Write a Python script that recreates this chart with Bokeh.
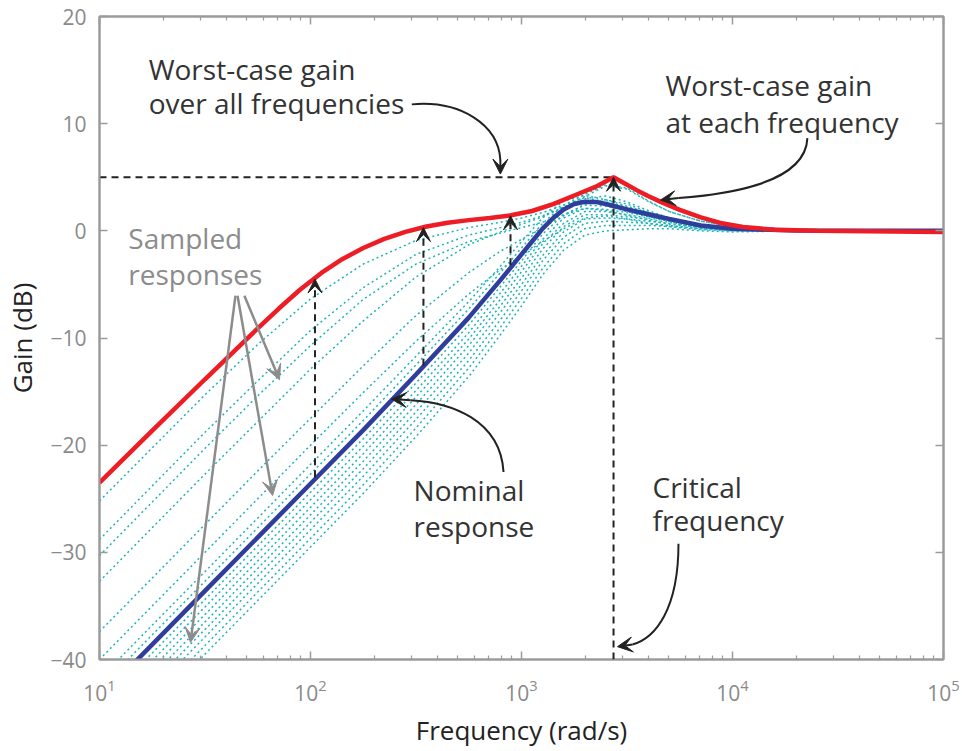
from bokeh.plotting import figure
from bokeh.models import (LogAxis, LinearAxis, Range1d, Arrow, VeeHead, ColumnDataSource,
                          FixedTicker)
from bokeh.core.properties import value
from bokeh.embed import file_html
from bokeh.resources import INLINE

# ---------------- data ----------------
# common frequency grid (rad/s) for the sampled responses
freq = [10, 31.62, 56.23, 100, 177.8, 316.2, 562.3, 794.3, 1000, 1259, 1585, 1995,
        2512, 3162, 3981, 5012, 7079, 10000, 19953, 100000]

# nominal response
nominal_freq = [10, 31.62, 56.23, 100, 177.8, 316.2, 562.3, 794.3, 1000, 1122, 1259, 1413, 1585,
                1778, 1995, 2239, 2512, 3162, 3981, 5012, 7079, 10000, 19953, 100000]
nominal_gain = [-43.6, -33.6, -28.6, -23.6, -18.6, -13.4, -8.1, -4.6, -2.2, -1.0, 0.2, 1.2, 2.0,
                2.5, 2.72, 2.7, 2.5, 2.0, 1.55, 1.1, 0.5, 0.2, 0.02, 0.0]

sampled_1 = [-25.2, -15.3, -10.6, -6.35, -3.1, -0.9, 0.3, 0.8, 1.2, 1.7, 2.4, 3.4, 4.3, 4.0, 2.8, 1.8, 0.9, 0.4, 0.1, 0.0]
sampled_2 = [-28.8, -18.8, -14.0, -9.3, -5.3, -2.2, -0.4, 0.3, 0.8, 1.4, 2.2, 3.0, 3.25, 2.7, 1.9, 1.2, 0.6, 0.25, 0.05, 0.0]
sampled_3 = [-30.3, -20.3, -15.4, -10.7, -6.4, -3.1, -1.0, -0.2, 0.3, 0.8, 1.5, 2.1, 1.9, 1.45, 1.0, 0.6, 0.3, 0.1, 0.0, 0.0]
sampled_4 = [-32.7, -22.7, -17.8, -12.9, -8.4, -4.3, -1.3, -0.1, 0.6, 1.3, 2.2, 3.2, 4.2, 3.9, 2.75, 1.8, 0.9, 0.4, 0.1, 0.0]
sampled_5 = [-37.4, -27.4, -22.4, -17.5, -12.6, -7.9, -3.9, -1.9, -0.8, 0.3, 1.4, 2.5, 2.9, 2.5, 1.75, 1.1, 0.55, 0.2, 0.05, 0.0]
sampled_6 = [-40.0, -30.0, -25.0, -20.0, -15.1, -10.3, -5.9, -3.6, -2.3, -1.0, 0.2, 1.2, 1.4, 1.1, 0.7, 0.4, 0.2, 0.1, 0.0, 0.0]
sampled_7 = [-41.8, -31.8, -26.8, -21.8, -16.8, -11.7, -6.6, -3.3, -1.0, 1.2, 2.8, 3.3, 2.9, 2.3, 1.7, 1.2, 0.6, 0.2, 0.0, 0.0]
sampled_8 = [-42.7, -32.7, -27.7, -22.7, -17.7, -12.5, -7.3, -3.9, -1.6, 0.7, 2.4, 3.1, 2.7, 2.2, 1.7, 1.2, 0.5, 0.2, 0.0, 0.0]
sampled_9 = [-44.4, -34.4, -29.4, -24.4, -19.4, -14.2, -8.8, -5.2, -2.8, -0.3, 1.5, 2.4, 2.3, 1.8, 1.4, 1.0, 0.5, 0.2, 0.0, 0.0]
sampled_10 = [-45.1, -35.1, -30.1, -25.1, -20.1, -14.9, -9.5, -5.8, -3.3, -0.8, 1.2, 2.1, 2.0, 1.7, 1.3, 1.0, 0.4, 0.2, 0.0, 0.0]
sampled_11 = [-45.8, -35.8, -30.8, -25.8, -20.8, -15.5, -10.1, -6.4, -3.8, -1.2, 0.7, 1.8, 1.8, 1.5, 1.2, 0.9, 0.4, 0.1, 0.0, 0.0]
sampled_12 = [-46.5, -36.5, -31.5, -26.5, -21.5, -16.2, -10.7, -7.0, -4.4, -1.7, 0.4, 1.5, 1.5, 1.3, 1.1, 0.8, 0.3, 0.1, 0.0, 0.0]
sampled_13 = [-47.2, -37.2, -32.2, -27.2, -22.2, -16.9, -11.4, -7.6, -5.0, -2.3, -0.1, 1.1, 1.2, 1.1, 0.9, 0.7, 0.3, 0.1, 0.0, 0.0]
sampled_14 = [-47.9, -37.9, -32.9, -27.9, -22.9, -17.6, -12.1, -8.3, -5.6, -2.8, -0.6, 0.7, 0.9, 0.8, 0.7, 0.5, 0.2, 0.0, 0.0, 0.0]
sampled_15 = [-48.7, -38.7, -33.7, -28.7, -23.7, -18.4, -12.8, -9.0, -6.3, -3.5, -1.2, 0.2, 0.5, 0.5, 0.5, 0.4, 0.1, 0.0, 0.0, 0.0]
sampled_16 = [-49.5, -39.5, -34.5, -29.5, -24.5, -19.2, -13.6, -9.7, -7.0, -4.1, -1.8, -0.4, 0.0, 0.1, 0.2, 0.2, 0.0, -0.1, 0.0, 0.0]

sampled = [sampled_1, sampled_2, sampled_3, sampled_4, sampled_5, sampled_6, sampled_7, sampled_8,
           sampled_9, sampled_10, sampled_11, sampled_12, sampled_13, sampled_14, sampled_15, sampled_16]

# worst-case gain at each frequency
worst_freq = [10, 17.78, 31.62, 56.23, 70.79, 89.13, 112.2, 141.3, 177.8, 223.9, 281.8, 354.8,
              446.7, 562.3, 707.9, 891.3, 1122, 1413, 1778, 2239, 2730, 3162, 3548, 3981,
              4571, 5623, 7079, 8913, 11220, 15849, 25119, 100000]
worst_gain = [-23.5, -18.65, -13.85, -9.1, -7.25, -5.5, -3.95, -2.65, -1.6, -0.75, -0.1, 0.4,
              0.75, 1.0, 1.2, 1.45, 1.85, 2.5, 3.3, 4.1, 5.0, 4.3, 3.75, 3.25,
              2.7, 1.95, 1.25, 0.7, 0.35, 0.1, 0.0, -0.1]

# worst case over all frequencies
critical_freq = 2730
peak_gain = 5.0

# vertical dashed arrows: nominal -> worst case
arrow_freq = [105, 343, 887, 2730]
arrow_base = [-23.0, -12.6, -3.2, -40.0]
arrow_tip = [-4.5, 0.3, 1.4, 5.0]

x_ticks = [10, 100, 1000, 10000, 100000]
x_tick_labels = ["10¹", "10²", "10³", "10⁴", "10⁵"]
y_ticks = [-40, -30, -20, -10, 0, 10, 20]
y_tick_labels = ["-40", "-30", "-20", "-10", "0", "10", "20"]

# annotation texts (text, frequency, gain)
notes_dark = [("Worst-case gain", 17.1, 15.1), ("over all frequencies", 17.1, 11.9),
              ("Worst-case gain", 4808, 13.6), ("at each frequency", 4808, 10.2),
              ("Nominal", 308, -24.2), ("response", 308, -27.5),
              ("Critical", 4178, -23.9), ("frequency", 4178, -27.0)]
notes_gray = [("Sampled", 13.7, -0.7), ("responses", 13.7, -4.0)]

# curved callout arrows (bezier in data space) and their heads
curve_x0 = [302, 22646, 822, 5546]
curve_y0 = [11.8, 8.65, -22.5, -29.2]
curve_cx0 = [514, 22160, 794, 5546]
curve_cy0 = [12.2, 4.28, -17.6, -35.3]
curve_cx1 = [778, 8770, 461, 4315]
curve_cy1 = [9.9, 3.35, -16.0, -38.0]
curve_x1 = [794, 5546, 298, 3357]
curve_y1 = [6.6, 3.07, -15.8, -38.6]
head_x_end = [794, 4560, 242, 2851]
head_y_end = [5.3, 2.88, -15.7, -38.8]

# gray straight arrows for "Sampled responses"
gray_x_start = [48.6, 45.1, 44.1]
gray_y_start = [-6.05, -6.05, -6.05]
gray_x_end = [71.3, 66.1, 27.0]
gray_y_end = [-13.9, -24.7, -38.4]

# ---------------- figure ----------------
FONT = "Open Sans"
AXIS_GRAY = "#9b9b9b"
LABEL_GRAY = "#8a8a8a"

p = figure(width=960, height=750, x_axis_type="log",
           x_range=Range1d(10, 100000), y_range=Range1d(-40, 20),
           output_backend="svg", toolbar_location=None,
           min_border_left=99, min_border_right=17, min_border_top=16, min_border_bottom=89)
p.grid.visible = False
p.outline_line_color = AXIS_GRAY
p.outline_line_width = 2
p.background_fill_color = "white"
p.border_fill_color = "white"

minor = [m * 10 ** e for e in range(1, 5) for m in range(2, 10)]
xt = FixedTicker(ticks=x_ticks, minor_ticks=minor)
yt = FixedTicker(ticks=y_ticks)

def style_axis(ax, labels=True):
    ax.axis_line_color = AXIS_GRAY
    ax.axis_line_width = 2
    ax.major_tick_line_color = AXIS_GRAY
    ax.minor_tick_line_color = AXIS_GRAY
    ax.major_tick_line_width = 1.5
    ax.minor_tick_line_width = 1.2
    ax.major_tick_in = 8
    ax.major_tick_out = 0
    ax.minor_tick_in = 4
    ax.minor_tick_out = 0
    ax.major_label_text_font = FONT
    ax.major_label_text_color = LABEL_GRAY
    ax.axis_label_text_font = FONT
    ax.axis_label_text_font_style = "normal"
    ax.axis_label_text_color = "#222222"
    ax.axis_label_text_font_size = "26px"
    if labels:
        ax.major_label_text_font_size = "21px"
    else:
        ax.major_label_text_font_size = "1px"
        ax.major_label_text_alpha = 0

xa = p.xaxis[0]
xa.ticker = xt
style_axis(xa)
xa.major_label_overrides = {str(k): v for k, v in zip(x_ticks, x_tick_labels)}
xa.major_label_standoff = 19
xa.axis_label = "Frequency (rad/s)"
xa.axis_label_standoff = 8

ya = p.yaxis[0]
ya.ticker = yt
style_axis(ya)
ya.major_label_overrides = {str(k): v for k, v in zip(y_ticks, y_tick_labels)}
ya.major_label_standoff = 13
ya.axis_label = "Gain (dB)"
ya.axis_label_standoff = 7

top = LogAxis(ticker=xt, major_label_standoff=0)
style_axis(top, labels=False)
p.add_layout(top, "above")
right = LinearAxis(ticker=yt, major_label_standoff=0)
style_axis(right, labels=False)
p.add_layout(right, "right")

# sampled responses
p.multi_line(xs=[freq] * len(sampled), ys=sampled, line_color="#1fb3b8",
             line_width=1.5, line_dash="2 3")

# dashed reference line at the worst-case peak
p.line([freq[0], critical_freq], [peak_gain, peak_gain], line_color="#222222",
       line_width=1.8, line_dash="7 5")

arrow_src = ColumnDataSource(dict(x=arrow_freq, y0=arrow_base, y1=arrow_tip))
p.add_layout(Arrow(source=arrow_src, x_start="x", y_start="y0", x_end="x", y_end="y1",
                   line_color="#222222", line_width=2, line_dash="7 5",
                   end=VeeHead(size=14, fill_color="#222222", line_color="#222222", line_width=1)))

# nominal and worst case
p.line(nominal_freq, nominal_gain, line_color="#2f3d9c", line_width=4.5)
p.line(worst_freq, worst_gain, line_color="#ee1c25", line_width=4.5)

# callouts
p.bezier(x0=curve_x0, y0=curve_y0, x1=curve_x1, y1=curve_y1,
         cx0=curve_cx0, cy0=curve_cy0, cx1=curve_cx1, cy1=curve_cy1,
         line_color="#222222", line_width=2)
head_src = ColumnDataSource(dict(xs=curve_x1, ys=curve_y1, xe=head_x_end, ye=head_y_end))
p.add_layout(Arrow(source=head_src, x_start="xs", y_start="ys", x_end="xe", y_end="ye",
                   line_color="#222222", line_width=2,
                   end=VeeHead(size=15, fill_color="#222222", line_color="#222222", line_width=1)))

gray_src = ColumnDataSource(dict(xs=gray_x_start, ys=gray_y_start, xe=gray_x_end, ye=gray_y_end))
p.add_layout(Arrow(source=gray_src, x_start="xs", y_start="ys", x_end="xe", y_end="ye",
                   line_color="#8c8c8c", line_width=2.5,
                   end=VeeHead(size=15, fill_color="#8c8c8c", line_color="#8c8c8c", line_width=1)))

p.text(x=[n[1] for n in notes_dark], y=[n[2] for n in notes_dark], text=[n[0] for n in notes_dark],
       text_font=value(FONT), text_font_size="28px", text_color="#333333",
       text_align="left", text_baseline="alphabetic")
p.text(x=[n[1] for n in notes_gray], y=[n[2] for n in notes_gray], text=[n[0] for n in notes_gray],
       text_font=value(FONT), text_font_size="28px", text_color="#8c8c8c",
       text_align="left", text_baseline="alphabetic")

open("out.html", "w").write(file_html(p, INLINE))
